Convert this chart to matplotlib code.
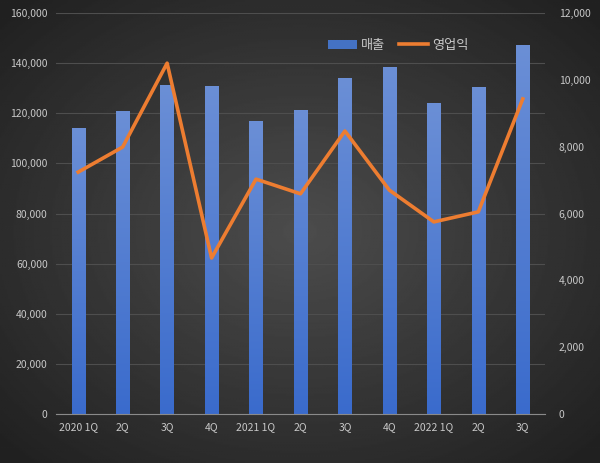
import numpy as np
import matplotlib.pyplot as plt
from matplotlib.colors import LinearSegmentedColormap

plt.rcParams['font.family'] = ['Noto Sans CJK KR', 'DejaVu Sans']

quarters = ['2020 1Q', '2Q', '3Q', '4Q', '2021 1Q', '2Q', '3Q', '4Q', '2022 1Q', '2Q', '3Q']
sales = [114000, 121000, 131200, 130800, 116800, 121200, 134000, 138400, 124000, 130400, 147200]
op_profit = [7240, 7990, 10500, 4670, 7030, 6590, 8470, 6700, 5750, 6050, 9430]

text_col = '#c8c8c8'
grid_col = '#4e4e4e'

fig = plt.figure(figsize=(6, 4.63), dpi=100)

# radial dark background
bg = fig.add_axes([0, 0, 1, 1], zorder=0)
yy, xx = np.mgrid[-1:1:300j, -1:1:400j]
r = np.sqrt(xx ** 2 + yy ** 2)
bg.imshow(0.30 - 0.17 * np.clip(r / 1.35, 0, 1), cmap='gray', vmin=0, vmax=1,
          aspect='auto', extent=[0, 1, 0, 1])
bg.axis('off')

ax = fig.add_axes([0.0933, 0.1058, 0.815, 0.866], zorder=1)
ax.patch.set_alpha(0)
x = np.arange(len(quarters))
bars = ax.bar(x, sales, width=0.3, color='#4472c4', label='매출', zorder=2)
ax.set_ylim(0, 160000)
ax.set_xlim(-0.5, len(quarters) - 0.5)

# light-to-dark gradient inside each bar
bar_cmap = LinearSegmentedColormap.from_list('b', ['#3a6bcc', '#6b8fd6'])
grad = np.linspace(0, 1, 256).reshape(-1, 1)
for b in bars:
    im = ax.imshow(grad, cmap=bar_cmap, origin='lower', aspect='auto', zorder=2,
                   extent=[b.get_x(), b.get_x() + b.get_width(), 0, b.get_height()])
    im.set_clip_path(b)
ax.set_xlim(-0.5, len(quarters) - 0.5)
ax.set_ylim(0, 160000)

ax.set_yticks(np.arange(0, 160001, 20000))
ax.set_yticklabels([f'{v:,}' for v in range(0, 160001, 20000)])
ax.set_xticks(x)
ax.set_xticklabels(quarters)
ax.grid(axis='y', color=grid_col, linewidth=0.8, zorder=0)
for s in ['top', 'right', 'left']:
    ax.spines[s].set_visible(False)
ax.spines['bottom'].set_color('#8a8a8a')
ax.tick_params(length=0, colors=text_col, labelsize=7.5, pad=6)

ax2 = ax.twinx()
line, = ax2.plot(x, op_profit, color='#ed7d31', linewidth=2.6, label='영업익', zorder=3)
ax2.set_ylim(0, 12000)
ax2.set_yticks(np.arange(0, 12001, 2000))
ax2.set_yticklabels([f'{v:,}' for v in range(0, 12001, 2000)])
for s in ax2.spines.values():
    s.set_visible(False)
ax2.tick_params(length=0, colors=text_col, labelsize=7.5, pad=10)

leg = ax2.legend(handles=[bars, line], loc='upper center', bbox_to_anchor=(0.7, 0.965),
                 ncol=2, frameon=False, fontsize=9.5, handlelength=2.2,
                 columnspacing=1.0, handletextpad=0.3)
for t in leg.get_texts():
    t.set_color(text_col)

fig.savefig('out.png', dpi=100)
